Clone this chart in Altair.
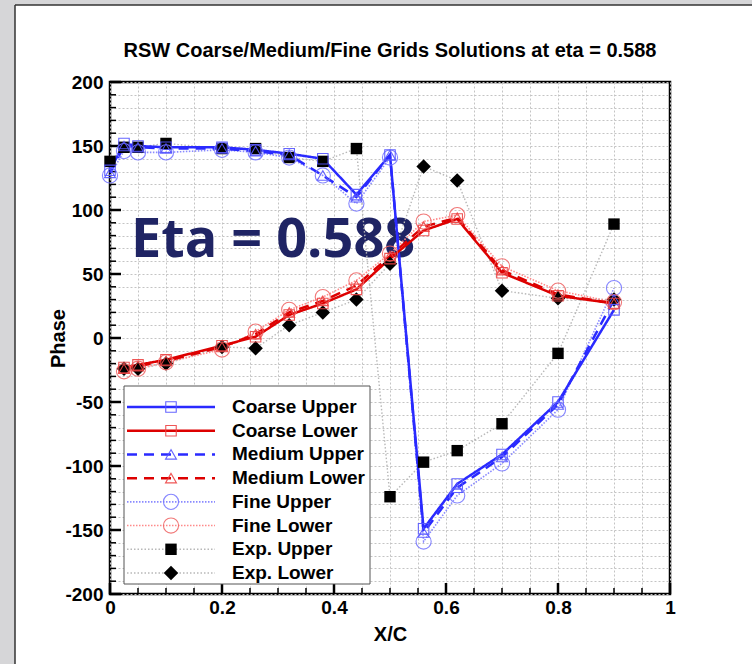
import altair as alt
import pandas as pd

# Chordwise stations (x/c) for the upper and lower surfaces
x_upper = [0, 0.025, 0.05, 0.1, 0.2, 0.26, 0.32, 0.38, 0.44, 0.5, 0.56, 0.62, 0.7, 0.8, 0.9]
x_lower = [0.025, 0.05, 0.1, 0.2, 0.26, 0.32, 0.38, 0.44, 0.5, 0.56, 0.62, 0.7, 0.8, 0.9]

# Phase (deg) from the three grid solutions
coarse_upper = [131, 152, 150, 149, 149, 147, 144, 140, 112, 143, -149, -114, -91, -50, 22]
medium_upper = [129, 150, 149, 148, 148, 146, 143, 127, 110, 143, -152, -117, -93, -52, 30]
fine_upper = [127, 146, 145, 145, 147, 145, 141, 127, 105, 141, -159, -123, -98, -56, 39]
coarse_lower = [-23, -21, -17, -6, 1, 18, 27, 38, 62, 84, 93, 51, 33, 27]
medium_lower = [-24, -22, -18, -7, 3, 20, 29, 41, 64, 87, 94, 53, 34, 27]
fine_lower = [-26, -24, -19, -9, 5, 22, 32, 45, 66, 91, 96, 56, 37, 28]

# Experimental phase
exp_upper = [138, 149, 149, 152, 148, 148, 141, 138, 148, -124, -97, -88, -67, -12, 89]
exp_lower = [-24, -24, -20, -7, -8, 10, 20, 30, 58, 134, 123, 37, 31, 30]

series_names = ["Coarse Upper", "Coarse Lower", "Medium Upper", "Medium Lower",
                "Fine Upper", "Fine Lower", "Exp. Upper", "Exp. Lower"]
series_x = [x_upper, x_lower, x_upper, x_lower, x_upper, x_lower, x_upper, x_lower]
series_y = [coarse_upper, coarse_lower, medium_upper, medium_lower,
            fine_upper, fine_lower, exp_upper, exp_lower]

x_ticks_major = [0, 0.2, 0.4, 0.6, 0.8, 1.0]
x_ticks_minor = [round(0.05 * i, 2) for i in range(21)]
y_ticks_major = list(range(-200, 201, 50))
y_ticks_minor = list(range(-200, 201, 10))

title_text = "RSW Coarse/Medium/Fine Grids Solutions at eta = 0.588"
overlay_text = "Eta = 0.588"

FONT = "Liberation Sans"
BLUE = "#2a2aff"
RED = "#dd0000"
W, H = 560, 512

styles = {
    "Coarse Upper": dict(color=BLUE, width=2.5, dash=[1, 0], shape="square", mcolor="#5555ff", filled=False, size=110),
    "Coarse Lower": dict(color=RED, width=2.5, dash=[1, 0], shape="square", mcolor="#ee4444", filled=False, size=110),
    "Medium Upper": dict(color=BLUE, width=2.5, dash=[10, 7], shape="triangle-up", mcolor="#5555ff", filled=False, size=120),
    "Medium Lower": dict(color=RED, width=2.5, dash=[10, 7], shape="triangle-up", mcolor="#ee4444", filled=False, size=120),
    "Fine Upper": dict(color="#8a8aff", width=1.6, dash=[1.5, 1.5], shape="circle", mcolor="#7a7aff", filled=False, size=230),
    "Fine Lower": dict(color="#ff8a8a", width=1.6, dash=[1.5, 1.5], shape="circle", mcolor="#f06a6a", filled=False, size=230),
    "Exp. Upper": dict(color="#b8b8b8", width=1.4, dash=[1.5, 2], shape="square", mcolor="black", filled=True, size=130),
    "Exp. Lower": dict(color="#b8b8b8", width=1.4, dash=[1.5, 2], shape="diamond", mcolor="black", filled=True, size=210),
}

x_scale = alt.Scale(domain=[0, 1], nice=False, zero=False)
y_scale = alt.Scale(domain=[-200, 200], nice=False, zero=False)

x_label_expr = ("abs(datum.value*5 - round(datum.value*5)) < 1e-6 ? "
                "(datum.value == 0 ? '0' : datum.value == 1 ? '1' : format(datum.value, '.1f')) : ''")
y_label_expr = "datum.value % 50 == 0 ? '' + datum.value : ''"

x_axis = alt.Axis(values=x_ticks_minor, labelExpr=x_label_expr, grid=True, ticks=False, tickSize=0,
                  domain=False, labelOverlap=False, labelFlush=False, labelPadding=4,
                  title="X/C", titleX=W / 2, titleY=40, titleBaseline="middle", titleAlign="center")
y_axis = alt.Axis(values=y_ticks_minor, labelExpr=y_label_expr, grid=True, ticks=False, tickSize=0,
                  domain=False, labelOverlap=False, labelPadding=7,
                  title="Phase", titleX=-52, titleY=H / 2, titleAngle=270,
                  titleBaseline="middle", titleAlign="center")

layers = []

# Annotation text sits under the curves
layers.append(
    alt.Chart(pd.DataFrame({"t": [overlay_text]})).mark_text(
        font="Open Sans", fontWeight="bold", fontSize=54, color="#1f2464",
        align="left", baseline="alphabetic"
    ).encode(x=alt.value(21), y=alt.value(175), text="t:N")
)

# Axis tick marks pointing inward from the frame
for vals, length, sw in [(x_ticks_minor, 6, 1.5), (x_ticks_major, 11, 2.5)]:
    layers.append(
        alt.Chart(pd.DataFrame({"v": vals})).mark_rule(color="black", strokeWidth=sw).encode(
            x=alt.X("v:Q", scale=x_scale, axis=x_axis), y=alt.value(H), y2=alt.value(H - length)
        )
    )
for vals, length, sw in [(y_ticks_minor, 6, 1.5), (y_ticks_major, 11, 2.5)]:
    layers.append(
        alt.Chart(pd.DataFrame({"v": vals})).mark_rule(color="black", strokeWidth=sw).encode(
            y=alt.Y("v:Q", scale=y_scale, axis=y_axis), x=alt.value(0), x2=alt.value(length)
        )
    )

frames = {}
for name, xs, ys in zip(series_names, series_x, series_y):
    frames[name] = pd.DataFrame({"x": xs, "y": ys})

line_order = ["Exp. Upper", "Exp. Lower", "Fine Upper", "Fine Lower",
              "Medium Upper", "Medium Lower", "Coarse Upper", "Coarse Lower"]
for name in line_order:
    s = styles[name]
    layers.append(
        alt.Chart(frames[name]).mark_line(color=s["color"], strokeWidth=s["width"], strokeDash=s["dash"]).encode(
            x=alt.X("x:Q", scale=x_scale, axis=x_axis), y=alt.Y("y:Q", scale=y_scale, axis=y_axis)
        )
    )
for name in line_order:
    s = styles[name]
    mk = dict(shape=s["shape"], size=s["size"], filled=s["filled"])
    if s["filled"]:
        mk.update(fill=s["mcolor"], strokeWidth=0, opacity=1, fillOpacity=1)
    else:
        mk.update(stroke=s["mcolor"], strokeWidth=1.1, opacity=0.9)
    layers.append(
        alt.Chart(frames[name]).mark_point(**mk).encode(
            x=alt.X("x:Q", scale=x_scale, axis=x_axis), y=alt.Y("y:Q", scale=y_scale, axis=y_axis)
        )
    )

# Chart heading, centred over the plot area
layers.append(
    alt.Chart(pd.DataFrame({"t": [title_text]})).mark_text(
        font=FONT, fontWeight="bold", fontSize=20, color="black", align="center", baseline="alphabetic"
    ).encode(x=alt.value(W / 2), y=alt.value(-25), text="t:N")
)

main = alt.layer(*layers)

# Legend block: rows placed with its own scales
leg_x = alt.Scale(domain=[0, 1], range=[17, 105])
leg_y = alt.Scale(domain=[0, 7], range=[325, 491])
leg_layers = [
    alt.Chart(pd.DataFrame({"k": [0]})).mark_rect(fill="white", stroke="#555555", strokeWidth=1).encode(
        x=alt.value(14), x2=alt.value(260), y=alt.value(304), y2=alt.value(502)
    )
]
for i, name in enumerate(series_names):
    s = styles[name]
    leg_layers.append(
        alt.Chart(pd.DataFrame({"lx": [0, 1], "row": [i, i]})).mark_line(
            color=s["color"], strokeWidth=s["width"], strokeDash=s["dash"]
        ).encode(x=alt.X("lx:Q", scale=leg_x, axis=None), y=alt.Y("row:Q", scale=leg_y, axis=None))
    )
    mk = dict(shape=s["shape"], size=s["size"], filled=s["filled"])
    if s["filled"]:
        mk.update(fill=s["mcolor"], strokeWidth=0, opacity=1)
    else:
        mk.update(stroke=s["mcolor"], strokeWidth=1.1, opacity=0.9)
    leg_layers.append(
        alt.Chart(pd.DataFrame({"lx": [0.5], "row": [i]})).mark_point(**mk).encode(
            x=alt.X("lx:Q", scale=leg_x, axis=None), y=alt.Y("row:Q", scale=leg_y, axis=None)
        )
    )
leg_layers.append(
    alt.Chart(pd.DataFrame({"name": series_names, "row": list(range(8))})).mark_text(
        font=FONT, fontWeight="bold", fontSize=19, align="left", baseline="middle", color="black"
    ).encode(x=alt.value(122), y=alt.Y("row:Q", scale=leg_y, axis=None), text="name:N")
)

# Slide edge: grey strips along the left and top with a dark rule
edge_layers = [
    alt.Chart(pd.DataFrame({"k": [0]})).mark_rect(fill="#d6d6d8").encode(
        x=alt.value(-110), x2=alt.value(-95), y=alt.value(-82), y2=alt.value(H + 70)
    ),
    alt.Chart(pd.DataFrame({"k": [0]})).mark_rect(fill="#d6d6d8").encode(
        x=alt.value(-110), x2=alt.value(W + 82), y=alt.value(-82), y2=alt.value(-77)
    ),
    alt.Chart(pd.DataFrame({"k": [0]})).mark_rule(color="#333333", strokeWidth=1.5).encode(
        x=alt.value(-95), y=alt.value(-77), y2=alt.value(H + 70)
    ),
    alt.Chart(pd.DataFrame({"k": [0]})).mark_rule(color="#333333", strokeWidth=1.5).encode(
        x=alt.value(-95), x2=alt.value(W + 82), y=alt.value(-77)
    ),
]

chart = alt.layer(main, alt.layer(*leg_layers), *edge_layers).resolve_scale(
    x="independent", y="independent"
).properties(
    width=W, height=H,
    autosize=alt.AutoSizeParams(type="none"),
    padding={"left": 110, "top": 82, "right": 82, "bottom": 70},
    background="white",
).configure_view(
    stroke="black", strokeWidth=2.5, fill="white"
).configure_axis(
    labelFont=FONT, labelFontSize=19, labelFontWeight="bold", labelColor="black",
    titleFont=FONT, titleFontSize=20, titleFontWeight="bold", titleColor="black",
    gridColor="#c4c4c4", gridDash=[2, 2], gridWidth=1,
)

chart.save("out.html", embed_options={"renderer": "svg", "actions": False})
